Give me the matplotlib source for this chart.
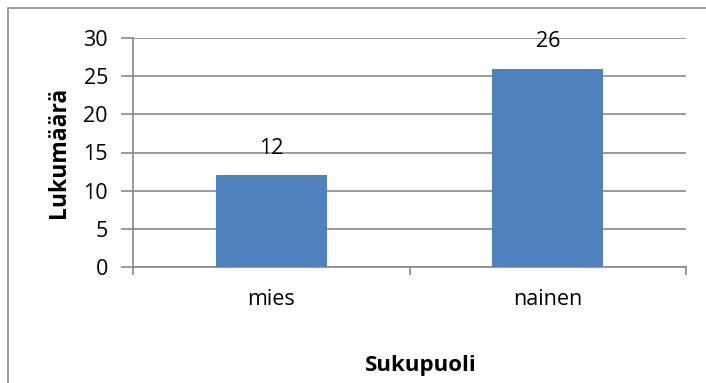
import matplotlib
matplotlib.use("Agg")
import matplotlib.pyplot as plt
from matplotlib.patches import Rectangle

categories = ["mies", "nainen"]
counts = [12, 26]
y_ticks = [0, 5, 10, 15, 20, 25, 30]

plt.rcParams['font.family'] = ['Open Sans', 'DejaVu Sans']

W, H = 706, 383
fig = plt.figure(figsize=(W / 100, H / 100), dpi=100)
ax = fig.add_axes([133 / W, 1 - 267 / H, (686 - 133) / W, (267 - 38) / H])

grey = "#898989"
fs = 15.5
pos = [i + 0.5 for i in range(len(categories))]
ax.bar(pos, counts, width=0.4, color="#4F81BD", zorder=3)
for x, v in zip(pos, counts):
    ax.annotate(str(v), (x, v), xytext=(0, 27), textcoords="offset pixels",
                ha="center", va="center", fontsize=fs, color="black", zorder=4)

ax.set_xlim(0, len(categories))
ax.set_ylim(0, 30)
ax.set_yticks(y_ticks)
ax.set_xticks(range(len(categories) + 1))
ax.set_xticklabels([])
ax.set_xticks(pos, minor=True)
ax.set_xticklabels(categories, minor=True)
ax.tick_params(axis="x", which="major", direction="out", length=6, color=grey, width=1.2)
ax.tick_params(axis="x", which="minor", length=0, pad=16, labelsize=fs)
ax.tick_params(axis="y", direction="out", length=9, color=grey, width=1.2, labelsize=fs, pad=9)

ax.grid(axis="y", color=grey, linewidth=1.2, zorder=0)
for side in ("top", "right"):
    ax.spines[side].set_visible(False)
for side in ("left", "bottom"):
    ax.spines[side].set_color(grey)
    ax.spines[side].set_linewidth(1.2)

ax.set_ylabel("Lukumäärä", fontsize=16.5, fontweight="bold", labelpad=9)
ax.set_xlabel("Sukupuoli", fontsize=16, fontweight="bold", labelpad=32, x=0.52)

fig.patches.append(Rectangle((8 / W, -0.1), 1.0, 1.1 - 8 / H, transform=fig.transFigure,
                             fill=False, edgecolor="#8c8c8c", linewidth=1.2))

fig.savefig("out.png", dpi=100)
